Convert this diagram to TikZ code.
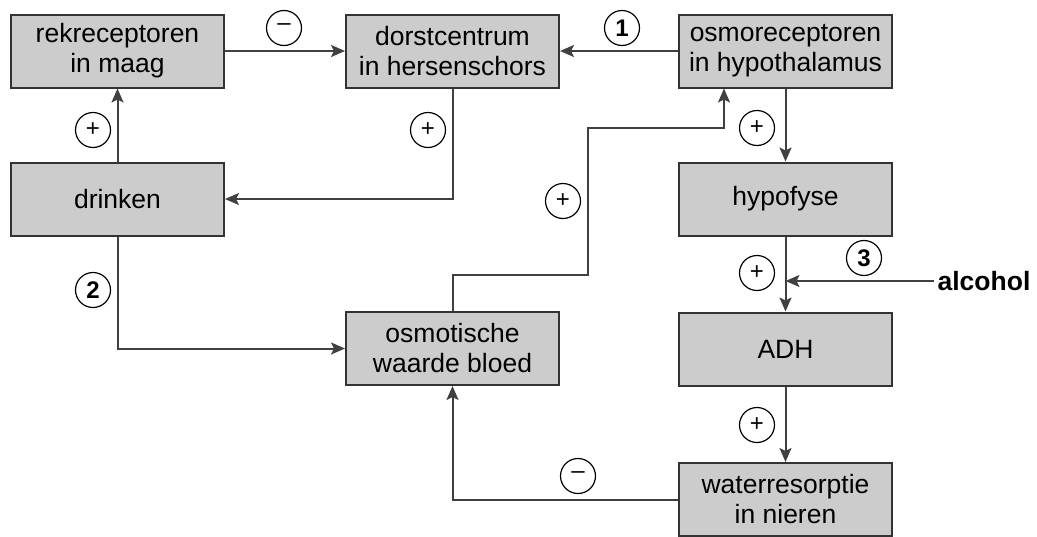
\documentclass[tikz,border=0pt]{standalone}
\usepackage{fontspec}
\setmainfont{Liberation Sans}
\usetikzlibrary{arrows.meta}
\definecolor{boxfill}{HTML}{CCCCCC}
\definecolor{linec}{HTML}{404040}
\definecolor{boxline}{HTML}{333333}
\begin{document}
\begin{tikzpicture}[x=1pt,y=-1pt,
 box/.style={draw=boxline, line width=2pt, fill=boxfill, minimum width=213pt, minimum height=73pt, inner sep=0pt, align=center, font=\fontsize{26.5}{30}\selectfont},
 conn/.style={draw=linec, line width=2pt, -{Stealth[length=14pt,width=12pt,inset=3pt]}},
 sign/.style={circle, draw=black, line width=1.2pt, minimum size=35pt, inner sep=0pt, font=\fontsize{24}{24}\selectfont},
 num/.style={sign, font=\fontsize{24}{24}\selectfont\bfseries}]
\useasboundingbox (0,0) rectangle (1037,536);
% boxes
\node[box] (rek) at (117.5,51) {rekreceptoren\\in maag};
\node[box] (dorst) at (452.5,51) {dorstcentrum\\in hersenschors};
\node[box] (osmo) at (785.5,51) {osmoreceptoren\\in hypothalamus};
\node[box] (drink) at (117.5,199) {drinken};
\node[box] (hypo) at (785.5,199) {hypofyse};
\node[box] (osmw) at (452.5,348.5) {osmotische\\waarde bloed};
\node[box] (adh) at (785.5,349) {ADH};
\node[box] (water) at (785.5,499.5) {waterresorptie\\in nieren};
\node[font=\fontsize{26.5}{30}\selectfont\bfseries] (alc) at (984,281) {alcohol};
% connectors
\draw[conn] (drink.north) -- (rek.south);
\draw[conn] (rek.east) -- (dorst.west);
\draw[conn] (osmo.west) -- (dorst.east);
\draw[conn] (dorst.south) |- (drink.east);
\draw[conn] (osmo.south) -- (hypo.north);
\coordinate (k1) at (588,275);
\coordinate (k2) at (724,128);
\draw[conn] (osmw.north) |- (k1) |- (k2) -- (k2 |- osmo.south);
\draw[conn] (drink.south) |- (osmw.west);
\draw[conn] (hypo.south) -- (adh.north);
\coordinate (j) at (785.5,281);
\draw[conn] (alc.west) -- (j);
\draw[conn] (adh.south) -- (water.north);
\draw[conn] (water.west) -| (osmw.south);
% signs
\node[sign] (s1) at (284,28) {\raisebox{1pt}{--}};
\node[num] (n1) at (622,28) {1};
\node[sign] (s2) at (93,130) {+};
\node[sign] (s3) at (428,130) {+};
\node[sign] (s4) at (757,128) {+};
\node[sign] (s5) at (563,201) {+};
\node[num] (n2) at (93,290) {2};
\node[sign] (s6) at (757,273) {+};
\node[num] (n3) at (864,258) {3};
\node[sign] (s7) at (757,425) {+};
\node[sign] (s8) at (578,476) {\raisebox{1pt}{--}};
\end{tikzpicture}
\end{document}
